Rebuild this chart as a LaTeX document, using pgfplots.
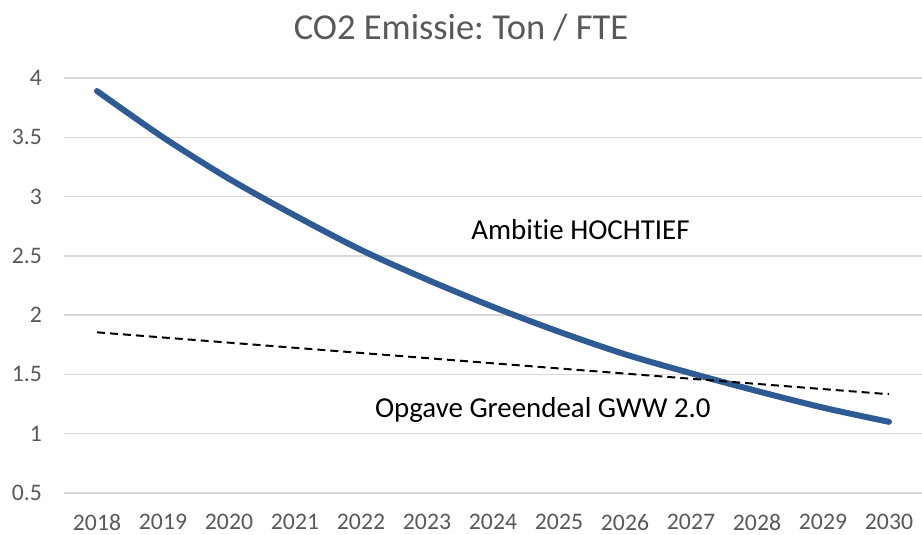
\documentclass[border=0pt]{standalone}
\usepackage{fontspec}
\setmainfont{Carlito}[Ligatures={NoCommon}]
\usepackage{pgfplots}
\pgfplotsset{compat=1.18}
\definecolor{tickgray}{HTML}{595959}
\definecolor{gridgray}{HTML}{D9D9D9}
\definecolor{lineblue}{HTML}{2F5B94}
\frenchspacing
\begin{document}
\begin{tikzpicture}
\useasboundingbox (0,0) rectangle (922pt,535pt);
\node[anchor=base, inner sep=0pt, text=tickgray, font=\fontsize{36.5}{40}\selectfont] at (461pt,495pt) {CO2 Emissie: Ton / FTE};
\begin{axis}[
  at={(64pt,42pt)}, anchor=south west,
  width=858pt, height=415pt, scale only axis,
  xmin=2017.5, xmax=2030.5, ymin=0.5, ymax=4,
  xtick={2018,2019,2020,2021,2022,2023,2024,2025,2026,2027,2028,2029,2030},
  ytick={0.5,1,1.5,2,2.5,3,3.5,4},
  yticklabels={0.5,1,1.5,2,2.5,3,3.5,4},
  axis line style={draw=none},
  major tick length=0pt,
  ymajorgrids, grid style={gridgray, line width=1.5pt},
  tick label style={text=tickgray, font=\fontsize{23.7}{28}\selectfont, inner sep=0pt},
  xticklabel style={anchor=north, yshift=-21pt, /pgf/number format/1000 sep={}},
  yticklabel style={anchor=east, xshift=-22pt},
  /pgf/number format/assume math mode=true,
  clip=false,
]
\addplot[lineblue, line width=6pt, line cap=round, line join=round, smooth, tension=0.5] coordinates {
(2018,3.89) (2019,3.50) (2020,3.15) (2021,2.84) (2022,2.55) (2023,2.30) (2024,2.07)
(2025,1.86) (2026,1.67) (2027,1.51) (2028,1.36) (2029,1.22) (2030,1.10)};
\addplot[black, line width=2pt, dash pattern=on 8pt off 5pt] coordinates {
(2018,1.855) (2030,1.333)};
\node[anchor=base west, inner sep=0pt, font=\fontsize{28.9}{32}\selectfont] at (axis cs:2023.67,2.634) {Ambitie HOCHTIEF};
\node[anchor=base west, inner sep=0pt, font=\fontsize{28.9}{32}\selectfont] at (axis cs:2022.21,1.133) {Opgave Greendeal GWW 2.0};
\end{axis}
\end{tikzpicture}
\end{document}
